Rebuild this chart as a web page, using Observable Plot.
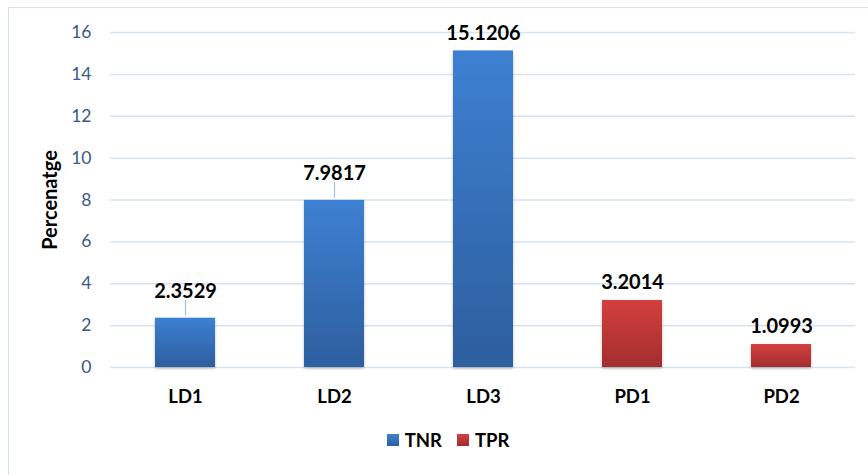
<!DOCTYPE html>
<html>
<head>
<meta charset="utf-8">
<script src="https://cdn.jsdelivr.net/npm/d3@7"></script>
<script src="https://cdn.jsdelivr.net/npm/@observablehq/plot@0.6"></script>
<style>
  html, body { margin: 0; padding: 0; background: #fff; }
  #wrap { position: relative; width: 868px; height: 475px; overflow: hidden; font-family: Lato, "Open Sans", sans-serif; }
  #frame { position: absolute; left: 8px; top: 7px; width: 880px; height: 490px; border: 1.5px solid #d6e2f1; box-sizing: border-box; pointer-events: none; }
  #chart { position: absolute; left: 0; top: 0; }
  #legend { position: absolute; top: 429px; left: 0; width: 868px; display: flex; justify-content: center; gap: 15px; font-weight: 700; font-size: 18.5px; color: #000; padding-left: 28px; box-sizing: border-box; }
  .item { display: flex; align-items: center; gap: 6px; }
  .sw { width: 12px; height: 12px; display: inline-block; }
</style>
</head>
<body>
<div id="wrap">
  <div id="frame"></div>
  <div id="chart"></div>
  <div id="legend"></div>
</div>
<script>
const categories = ["LD1", "LD2", "LD3", "PD1", "PD2"];
const series = ["TNR", "TNR", "TNR", "TPR", "TPR"];
const values = [2.3529, 7.9817, 15.1206, 3.2014, 1.0993];
const yTicks = [0, 2, 4, 6, 8, 10, 12, 14, 16];
const seriesNames = ["TNR", "TPR"];
const leaderLabels = ["LD1", "LD2"];

const data = categories.map((c, i) => ({ cat: c, series: series[i], value: values[i] }));
const fills = { TNR: "url(#gradTNR)", TPR: "url(#gradTPR)" };
const swatch = {
  TNR: "linear-gradient(#3d80d2, #2d5e9e)",
  TPR: "linear-gradient(#d33f3f, #a32d2d)"
};

const fontFamily = "Lato, 'Open Sans', sans-serif";

const chart = Plot.plot({
  width: 868,
  height: 420,
  marginLeft: 110,
  marginRight: 13,
  marginTop: 32,
  marginBottom: 53,
  style: { fontFamily, background: "transparent", overflow: "visible" },
  x: { domain: categories, paddingInner: 0.6, paddingOuter: 0.3, label: null },
  y: { domain: [0, 16], label: null },
  marks: [
    Plot.ruleY(yTicks, { stroke: "#d6e2f1", strokeWidth: 1.5 }),
    ...seriesNames.map(s =>
      Plot.barY(data.filter(d => d.series === s), {
        x: "cat", y: "value", fill: fills[s]
      })
    ),
    Plot.ruleX(data.filter(d => leaderLabels.includes(d.cat)), {
      x: "cat", y1: d => d.value + 0.1, y2: d => d.value + 0.85,
      stroke: "#9cc0e6", strokeWidth: 1.2
    }),
    Plot.text(data.filter(d => leaderLabels.includes(d.cat)), {
      x: "cat", y: "value", text: d => String(d.value), dy: -20,
      fontWeight: 700, fontSize: 20, fill: "#000", lineAnchor: "bottom"
    }),
    Plot.text(data.filter(d => !leaderLabels.includes(d.cat)), {
      x: "cat", y: "value", text: d => String(d.value), dy: -11,
      fontWeight: 700, fontSize: 20, fill: "#000", lineAnchor: "bottom"
    }),
    Plot.axisY(yTicks, { tickSize: 0, tickPadding: 19, fontSize: 17.5, color: "#3a5888", label: null }),
    Plot.axisX({ tickSize: 0, tickPadding: 22, fontSize: 18.5, fontWeight: 700, color: "#000", label: null }),
    Plot.text(["Percenatge"], {
      frameAnchor: "left", textAnchor: "middle", dx: -60, rotate: -90, fontSize: 20, fontWeight: 700, fill: "#000"
    })
  ]
});

// gradients + shadow
const svg = d3.select(chart);
const defs = svg.insert("defs", ":first-child");
function grad(id, top, bottom) {
  const g = defs.append("linearGradient").attr("id", id).attr("x1", 0).attr("y1", 0).attr("x2", 0).attr("y2", 1);
  g.append("stop").attr("offset", "0%").attr("stop-color", top);
  g.append("stop").attr("offset", "100%").attr("stop-color", bottom);
}
grad("gradTNR", "#3d80d2", "#2d5e9e");
grad("gradTPR", "#d33f3f", "#a32d2d");
const f = defs.append("filter").attr("id", "shadow").attr("x", "-20%").attr("y", "-20%").attr("width", "140%").attr("height", "140%");
f.append("feDropShadow").attr("dx", 0).attr("dy", 1.5).attr("stdDeviation", 1.5).attr("flood-color", "#000").attr("flood-opacity", 0.25);
svg.selectAll("g[aria-label='bar'] rect").attr("filter", "url(#shadow)");

document.getElementById("chart").appendChild(chart);

const legend = document.getElementById("legend");
seriesNames.forEach(s => {
  const it = document.createElement("div");
  it.className = "item";
  const sw = document.createElement("span");
  sw.className = "sw";
  sw.style.background = swatch[s];
  const t = document.createElement("span");
  t.textContent = s;
  it.appendChild(sw);
  it.appendChild(t);
  legend.appendChild(it);
});
</script>
</body>
</html>
